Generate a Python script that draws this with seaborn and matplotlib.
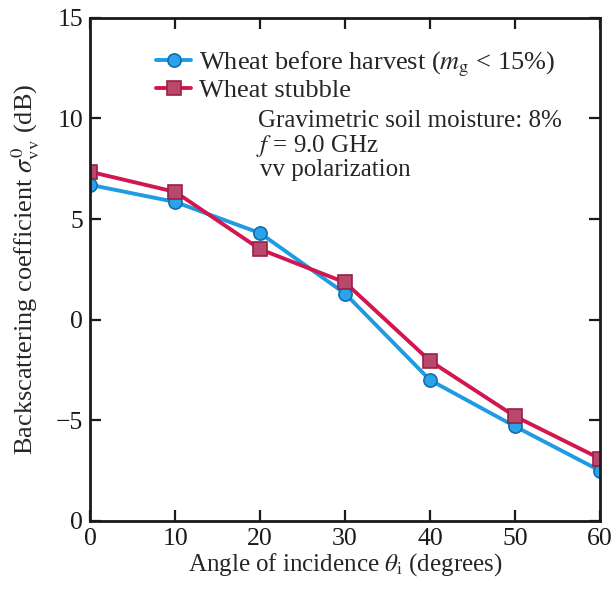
import matplotlib
matplotlib.use("Agg")
import matplotlib.pyplot as plt
import seaborn as sns
import pandas as pd

angles = [0, 10, 20, 30, 40, 50, 60]
wheat_before_harvest = [6.7, 5.85, 4.3, 1.3, -3.0, -5.3, -7.5]
wheat_stubble = [7.35, 6.35, 3.5, 1.85, -2.05, -4.8, -6.9]
series_names = ["Wheat before harvest ($m_{\\rm g}$ < 15%)", "Wheat stubble"]
x_ticks = [0, 10, 20, 30, 40, 50, 60]
y_ticks = [-10, -5, 0, 5, 10, 15]
y_tick_labels = ["0", "\u22125", "0", "5", "10", "15"]

sns.set_theme(style="ticks")
plt.rcParams["font.family"] = ["Liberation Serif", "DejaVu Serif"]
plt.rcParams["mathtext.fontset"] = "stix"

df = pd.DataFrame({
    "angle": angles * 2,
    "sigma": wheat_before_harvest + wheat_stubble,
    "series": [series_names[0]] * len(angles) + [series_names[1]] * len(angles),
})

fig = plt.figure(figsize=(6.14, 5.94), dpi=100)
ax = fig.add_axes([0.147, 0.123, 0.83, 0.847])

palette = {series_names[0]: "#1f9be3", series_names[1]: "#d2174f"}
sns.lineplot(data=df, x="angle", y="sigma", hue="series", style="series",
             markers={series_names[0]: "o", series_names[1]: "s"},
             dashes=False, palette=palette, linewidth=2.8, ax=ax,
             markersize=9.5, legend=True)

# marker faces and edges per series
marker_style = {
    series_names[0]: ("#2ba3ea", "#0f6fb0"),
    series_names[1]: ("#b8486c", "#9c1f45"),
}
for ln in ax.get_lines():
    for name, (fc, ec) in marker_style.items():
        if ln.get_color() == palette[name]:
            ln.set_markerfacecolor(fc)
            ln.set_markeredgecolor(ec)
            ln.set_markeredgewidth(1.2)

ax.set_xlim(0, 60)
ax.set_ylim(-10, 15)
ax.set_xticks(x_ticks)
ax.set_yticks(y_ticks)
ax.set_yticklabels(y_tick_labels)
ax.tick_params(direction="in", length=8, width=1.6, labelsize=18.5,
               top=True, right=True, pad=5, colors="#1a1a1a")
for sp in ax.spines.values():
    sp.set_linewidth(2.0)
    sp.set_color("#1a1a1a")
    sp.set_visible(True)

ax.set_xlabel("Angle of incidence $\\theta_{\\rm i}$ (degrees)", fontsize=18, labelpad=1)
ax.set_ylabel("Backscattering coefficient $\\sigma^0_{\\rm vv}$ (dB)", fontsize=19)
ax.yaxis.set_label_coords(-0.095, 0.5)

handles, labels = ax.get_legend_handles_labels()
for h, name in zip(handles, labels):
    if name in marker_style:
        fc, ec = marker_style[name]
        h.set_markerfacecolor(fc)
        h.set_markeredgecolor(ec)
ax.legend(handles, labels, loc="upper left", bbox_to_anchor=(0.108, 0.958),
          frameon=False, fontsize=19, handlelength=1.35, handletextpad=0.3,
          labelspacing=0.0, borderaxespad=0)

ax.text(0.329, 0.795, "Gravimetric soil moisture: 8%", transform=ax.transAxes,
        fontsize=18, va="center", ha="left")
ax.text(0.325, 0.746, "$f$ = 9.0 GHz", transform=ax.transAxes,
        fontsize=18, va="center", ha="left")
ax.text(0.333, 0.697, "vv polarization", transform=ax.transAxes,
        fontsize=18, va="center", ha="left")

fig.savefig("out.png", dpi=100)
